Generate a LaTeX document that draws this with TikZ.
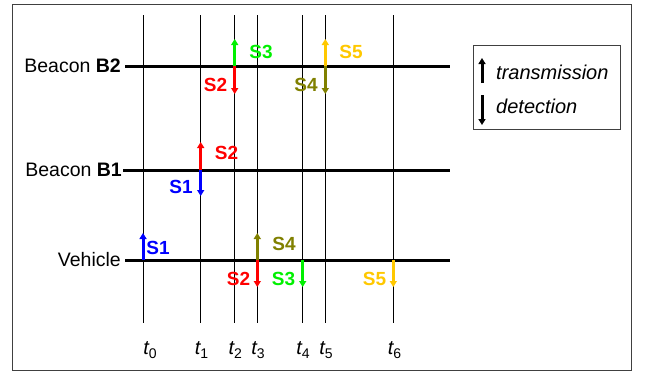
\documentclass[tikz,border=0pt]{standalone}
\usepackage{fontspec}
\setmainfont{Liberation Sans}
\usetikzlibrary{arrows.meta}
\definecolor{cred}{RGB}{255,0,0}
\definecolor{cgreen}{RGB}{0,240,0}
\definecolor{cblue}{RGB}{0,0,255}
\definecolor{colive}{RGB}{128,128,0}
\definecolor{cgold}{RGB}{255,200,0}
\tikzset{
  timeline/.style={line width=0.8pt, black},
  track/.style={line width=3pt, black},
  sig/.style={line width=3pt, -{Triangle[width=7pt,length=6pt]}},
  slab/.style={font=\fontsize{19}{19}\selectfont\bfseries, inner sep=0pt},
  who/.style={font=\fontsize{19.5}{19.5}\selectfont, anchor=east, inner sep=0pt},
  leg/.style={font=\fontsize{20}{20}\selectfont\itshape, anchor=west, inner sep=0pt},
  tlab/.style={font=\fontsize{20}{20}\selectfont, inner sep=0pt},
}
\newcommand{\tsub}[1]{{\itshape t}\raisebox{-4pt}{\fontsize{14}{14}\selectfont #1}}
\begin{document}
\begin{tikzpicture}[x=1pt,y=-1pt]
\useasboundingbox (0,0) rectangle (645,373);
\draw[black!75, line width=1.2pt] (12.5,4.5) rectangle (631.5,370.5);
% time lines
\foreach \n/\x in {0/143,1/200.7,2/234.7,3/257.3,4/302.7,5/325.3,6/393.3}{
  \coordinate (top\n) at (\x,15);
  \coordinate (bot\n) at (\x,323);
  \draw[timeline] (top\n) -- (bot\n);
}
% time labels
\node[tlab] (t0) at (150,350) {\tsub{0}};
\node[tlab] (t1) at (201.5,350) {\tsub{1}};
\node[tlab] (t2) at (235.3,350) {\tsub{2}};
\node[tlab] (t3) at (258,350) {\tsub{3}};
\node[tlab] (t4) at (303,350) {\tsub{4}};
\node[tlab] (t5) at (326,350) {\tsub{5}};
\node[tlab] (t6) at (394.5,350) {\tsub{6}};
% tracks
\coordinate (b2s) at (125,66); \coordinate (b2e) at (450,66);
\coordinate (b1s) at (123,170); \coordinate (b1e) at (450,170);
\coordinate (vs) at (125,260); \coordinate (ve) at (450,260);
\draw[track] (b2s) -- (b2e);
\draw[track] (b1s) -- (b1e);
\draw[track] (vs) -- (ve);
\node[who] (nb2) at (121,66) {Beacon \textbf{B2}};
\node[who] (nb1) at (122,170) {Beacon \textbf{B1}};
\node[who] (nv) at (121,260) {Vehicle};
% Beacon B2 events
\coordinate (b2a) at (234.7,66); \coordinate (b2aU) at (234.7,39); \coordinate (b2aD) at (234.7,94);
\coordinate (b2b) at (325.3,66); \coordinate (b2bU) at (325.3,39); \coordinate (b2bD) at (325.3,94);
\draw[sig, cgreen] (b2a) -- (b2aU);
\draw[sig, cred] (b2a) -- (b2aD);
\draw[sig, cgold] (b2b) -- (b2bU);
\draw[sig, colive] (b2b) -- (b2bD);
\node[slab, text=cgreen] (l1) at (261,51.5) {S3};
\node[slab, text=cred] (l2) at (215.5,85) {S2};
\node[slab, text=colive] (l3) at (306,85) {S4};
\node[slab, text=cgold] (l4) at (351,51.5) {S5};
% Beacon B1 events
\coordinate (b1a) at (200.7,170); \coordinate (b1aU) at (200.7,142); \coordinate (b1aD) at (200.7,196);
\draw[sig, cred] (b1a) -- (b1aU);
\draw[sig, cblue] (b1a) -- (b1aD);
\node[slab, text=cred] (l5) at (226.5,153) {S2};
\node[slab, text=cblue] (l6) at (181,187) {S1};
% Vehicle events
\coordinate (va) at (143,260); \coordinate (vaU) at (143,233);
\coordinate (vb) at (257.3,260); \coordinate (vbU) at (257.3,233); \coordinate (vbD) at (257.3,287);
\coordinate (vc) at (302.7,260); \coordinate (vcD) at (302.7,287);
\coordinate (vd) at (393.3,260); \coordinate (vdD) at (393.3,287);
\draw[sig, cblue] (va) -- (vaU);
\draw[sig, colive] (vb) -- (vbU);
\draw[sig, cred] (vb) -- (vbD);
\draw[sig, cgreen] (vc) -- (vcD);
\draw[sig, cgold] (vd) -- (vdD);
\node[slab, text=cblue] (l7) at (158,248) {S1};
\node[slab, text=colive] (l8) at (284,244) {S4};
\node[slab, text=cred] (l9) at (238.5,279) {S2};
\node[slab, text=cgreen] (l10) at (283.5,279) {S3};
\node[slab, text=cgold] (l11) at (374.5,279) {S5};
% legend
\node[draw=black!75, line width=1.2pt, minimum width=147pt, minimum height=84pt, anchor=north west, inner sep=0pt] (legend) at (473,45) {};
\coordinate (lgA) at (482,83); \coordinate (lgAU) at (482,58);
\coordinate (lgB) at (482,95); \coordinate (lgBD) at (482,125);
\draw[sig, black] (lgA) -- (lgAU);
\draw[sig, black] (lgB) -- (lgBD);
\node[leg] (ltr) at (496,72.5) {transmission};
\node[leg] (ldt) at (496,106) {detection};
\end{tikzpicture}
\end{document}
